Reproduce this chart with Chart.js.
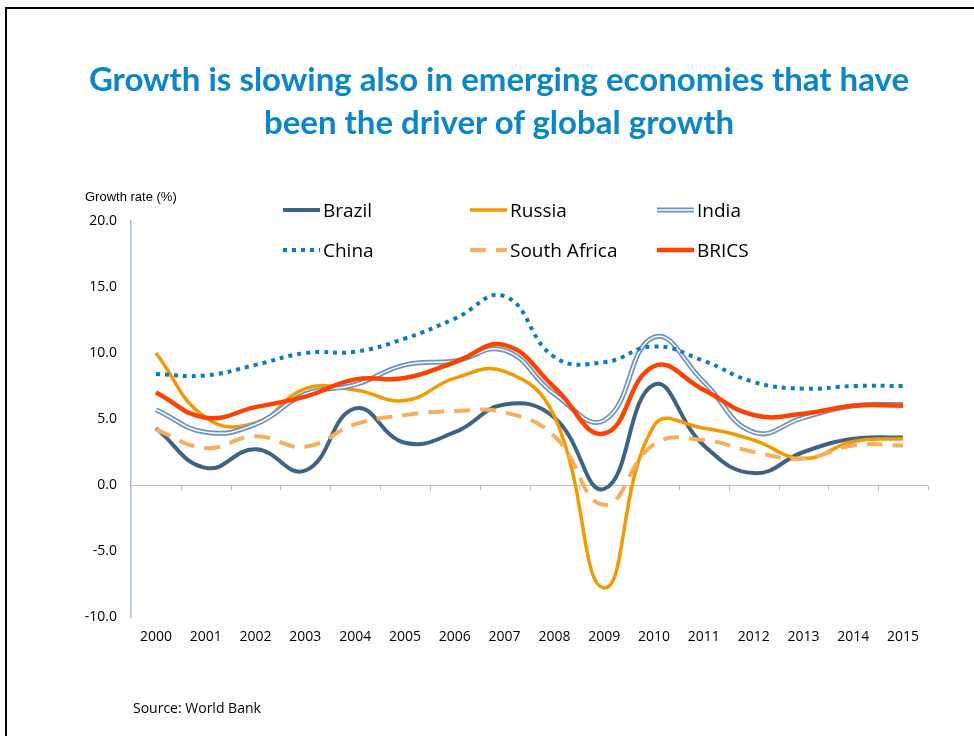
<!DOCTYPE html>
<html>
<head>
<meta charset="utf-8">
<script src="https://cdn.jsdelivr.net/npm/chart.js@4/dist/chart.umd.min.js"></script>
<style>
  body { margin: 0; background: #fff; }
  #page { position: relative; width: 974px; height: 736px; overflow: hidden; }
  #frame { position: absolute; left: 5px; top: 7px; width: 1000px; height: 800px;
           border-left: 2px solid #000; border-top: 2px solid #000; }
  #title { position: absolute; left: 0; top: 57px; width: 998px; text-align: center;
           font-family: Lato, 'Open Sans', sans-serif; font-weight: 700; font-size: 33px;
           line-height: 43px; color: #0A87CA; white-space: nowrap; }
  #ylabel { position: absolute; left: 85px; top: 189px; font-family: 'Liberation Sans', Arial, sans-serif;
            font-size: 13px; color: #000; }
  #source { position: absolute; left: 133px; top: 698px; font-family: 'Open Sans', sans-serif;
            font-size: 14px; color: #000; }
  #legend { position: absolute; left: 0; top: 0; }
  .item { position: absolute; display: flex; align-items: center; height: 26px; white-space: nowrap;
          font-family: 'Open Sans', sans-serif; font-size: 19px; color: #000; }
  .item svg { margin-right: 3px; }
  canvas { position: absolute; left: 0; top: 0; }
</style>
</head>
<body>
<div id="page">
  <canvas id="chart" width="974" height="736"></canvas>
  <div id="frame"></div>
  <div id="title">Growth is slowing also in emerging economies that have<br>been the driver of global growth</div>
  <div id="ylabel">Growth rate (%)</div>
  <div id="legend"></div>
  <div id="source">Source: World Bank</div>
</div>
<script>
// Data
const years = ['2000', '2001', '2002', '2003', '2004', '2005', '2006', '2007',
               '2008', '2009', '2010', '2011', '2012', '2013', '2014', '2015'];
const brazil      = [4.3, 1.3, 2.7, 1.1, 5.8, 3.2, 4.0, 6.1, 5.1, -0.3, 7.6, 3.0, 0.9, 2.5, 3.5, 3.6];
const russia      = [10.0, 5.1, 4.7, 7.3, 7.2, 6.4, 8.1, 8.6, 5.2, -7.8, 4.5, 4.3, 3.4, 2.0, 3.3, 3.5];
const india       = [5.7, 4.0, 4.6, 6.9, 7.6, 9.1, 9.4, 10.2, 6.9, 4.9, 11.2, 7.8, 4.0, 5.1, 6.0, 6.1];
const china       = [8.4, 8.3, 9.1, 10.0, 10.1, 11.1, 12.6, 14.3, 9.7, 9.3, 10.5, 9.4, 7.8, 7.3, 7.5, 7.5];
const southAfrica = [4.2, 2.8, 3.7, 2.9, 4.6, 5.3, 5.6, 5.5, 3.7, -1.5, 3.1, 3.4, 2.5, 2.0, 3.0, 3.0];
const brics       = [7.0, 5.1, 5.9, 6.7, 8.0, 8.1, 9.3, 10.6, 7.4, 3.9, 9.0, 7.2, 5.3, 5.4, 6.0, 6.0];
const yTicks = [20, 15, 10, 5, 0, -5, -10];

const tension = 0.45;

function line(label, data, color, width, dash, order) {
    return {
        label: label,
        data: data,
        borderColor: color,
        borderWidth: width,
        borderDash: dash || [],
        borderCapStyle: 'butt',
        borderJoinStyle: 'round',
        tension: tension,
        pointRadius: 0,
        fill: false,
        order: order
    };
}

const datasets = [
    line('Brazil', brazil, '#3D6487', 4, null, 7),
    line('Russia', russia, '#F39A00', 3.5, null, 6),
    line('India', india, '#6D93C0', 5, null, 5),
    line('India inner', india, '#ffffff', 1.5, null, 4),
    line('China', china, '#0A7EC0', 4, [4, 5], 3),
    line('South Africa', southAfrica, '#F9AE5E', 4, [16, 10], 2),
    line('BRICS', brics, '#FF4200', 4.5, null, 1)
];

// zero line with tick marks between the categories
const zeroAxis = {
    id: 'zeroAxis',
    beforeDatasetsDraw(chart) {
        const { ctx, chartArea, scales } = chart;
        const y0 = Math.round(scales.y.getPixelForValue(0)) + 0.5;
        ctx.save();
        ctx.strokeStyle = '#BDBDBD';
        ctx.lineWidth = 1;
        ctx.beginPath();
        ctx.moveTo(chartArea.left, y0);
        ctx.lineTo(chartArea.right, y0);
        for (let i = 1; i <= years.length; i++) {
            const px = Math.round(scales.x.getPixelForValue(i - 0.5)) + 0.5;
            ctx.moveTo(px, y0);
            ctx.lineTo(px, y0 + 5);
        }
        ctx.stroke();
        ctx.restore();
    }
};

const chart = new Chart(document.getElementById('chart'), {
    type: 'line',
    data: { labels: years, datasets: datasets },
    options: {
        responsive: false,
        animation: false,
        layout: { padding: { left: 60, top: 221, right: 46, bottom: 79 } },
        plugins: { legend: { display: false }, tooltip: { enabled: false } },
        scales: {
            x: {
                offset: true,
                grid: { display: false, drawTicks: false },
                border: { display: false },
                afterFit: (scale) => { scale.height = 40; },
                ticks: {
                    padding: 12,
                    color: '#000',
                    maxRotation: 0,
                    font: { family: "'Open Sans', sans-serif", size: 14 }
                }
            },
            y: {
                min: -10,
                max: 20,
                grid: { display: false, drawTicks: false },
                border: { display: true, color: '#A9BCD0', width: 1.5 },
                afterFit: (scale) => { scale.width = 71; },
                afterBuildTicks: (scale) => { scale.ticks = yTicks.map(v => ({ value: v })); },
                ticks: {
                    padding: 14,
                    color: '#000',
                    font: { family: "'Open Sans', sans-serif", size: 14 },
                    callback: (v) => v.toFixed(1)
                }
            }
        }
    },
    plugins: [zeroAxis]
});

// legend built from the chart's datasets, three columns by two rows
const legendOrder = ['Brazil', 'Russia', 'India', 'China', 'South Africa', 'BRICS'];
const legend = document.getElementById('legend');
legendOrder.forEach((name, i) => {
    const ds = datasets.find(d => d.label === name);
    const col = i % 3, row = Math.floor(i / 3);
    const item = document.createElement('div');
    item.className = 'item';
    item.style.left = (283 + col * 187) + 'px';
    item.style.top = (197 + row * 40) + 'px';
    let svg = '<svg width="37" height="10">';
    if (name === 'India') {
        svg += '<line x1="0" y1="5" x2="37" y2="5" stroke="' + ds.borderColor + '" stroke-width="5"/>' +
               '<line x1="0" y1="5" x2="37" y2="5" stroke="#fff" stroke-width="1.5"/>';
    } else {
        svg += '<line x1="0" y1="5" x2="37" y2="5" stroke="' + ds.borderColor + '" stroke-width="' +
               ds.borderWidth + '" stroke-dasharray="' + (ds.borderDash.join(' ') || 'none') + '"/>';
    }
    svg += '</svg>';
    item.innerHTML = svg + '<span>' + name + '</span>';
    legend.appendChild(item);
});
</script>
</body>
</html>
